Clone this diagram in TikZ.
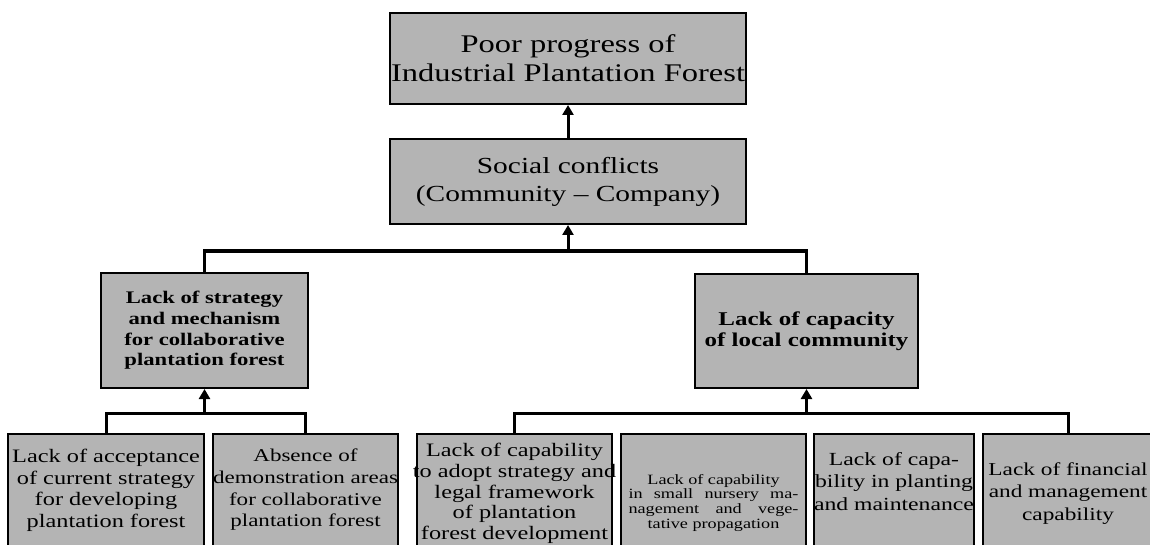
\documentclass[tikz,border=0pt]{standalone}
\usepackage{fontspec}
\setmainfont{Liberation Serif}[FakeStretch=1.28]
\usetikzlibrary{arrows.meta}
\definecolor{boxgray}{RGB}{180,180,180}
\begin{document}
\begin{tikzpicture}[x=1pt,y=-1pt,
  box/.style={draw=black, line width=2pt, fill=boxgray, inner sep=0pt, anchor=north west},
  conn/.style={line width=3pt, line join=miter},
  arr/.style={line width=3pt, -{Triangle[length=10pt,width=11pt]}},
  toptext/.style={font=\fontsize{25.4}{29}\selectfont, align=center},
  soctext/.style={font=\fontsize{23}{28}\selectfont, align=center},
  midtext/.style={font=\fontsize{17.7}{20.7}\selectfont\bfseries, align=center},
  bottext/.style={font=\fontsize{19}{21.7}\selectfont, align=center, inner sep=0pt, anchor=north},
  smalltext/.style={font=\fontsize{14.2}{14.7}\selectfont, align=center, inner sep=0pt, anchor=north}]
\useasboundingbox (0,0) rectangle (1150,545);
\clip (0,0) rectangle (1150,545);
\fill[white] (0,0) rectangle (1150,545);

% boxes
\node[box, minimum width=356pt, minimum height=91pt, toptext] (top) at (389,12)
  {Poor progress of\\Industrial Plantation Forest};
\node[box, minimum width=356pt, minimum height=85pt, soctext] (soc) at (389,138)
  {Social conflicts\\(Community -- Company)};
\node[box, minimum width=207pt, minimum height=115pt, midtext] (ml) at (100,272)
  {Lack of strategy\\and mechanism\\for collaborative\\plantation forest};
\node[box, minimum width=223pt, minimum height=114pt, midtext, font=\fontsize{19.5}{20.7}\selectfont\bfseries] (mr) at (694,273)
  {Lack of capacity\\of local community};

\node[box, minimum width=196pt, minimum height=140pt] (b1) at (7,433) {};
\node[box, minimum width=185pt, minimum height=140pt] (b2) at (212,433) {};
\node[box, minimum width=195pt, minimum height=140pt] (b3) at (416,433) {};
\node[box, minimum width=185pt, minimum height=140pt] (b4) at (620,433) {};
\node[box, minimum width=160pt, minimum height=140pt] (b5) at (813,433) {};
\node[box, minimum width=170pt, minimum height=140pt] (b6) at (982,433) {};

% texts of the lower boxes
\node[bottext] (t1) at (b1.north |- 0,449)
  {Lack of acceptance\\of current strategy\\for developing\\plantation forest};
\node[bottext, font=\fontsize{18}{21.7}\selectfont] (t2) at (b2.north |- 0,449)
  {Absence of\\demonstration areas\\for collaborative\\plantation forest};
\node[bottext, font=\fontsize{19}{20.8}\selectfont] (t3) at (b3.north |- 0,443)
  {Lack of capability\\to adopt strategy and\\legal framework\\of plantation\\forest development};
\node[smalltext] (t4) at (b4.north |- 0,474)
  {Lack of capability\\\makebox[170pt][s]{in small nursery ma-}\\\makebox[170pt][s]{nagement  and vege-}\\tative propagation};
\node[bottext, font=\fontsize{18.5}{22.5}\selectfont] (t5) at (b5.north |- 0,452)
  {Lack of capa-\\bility in planting\\and maintenance};
\node[bottext, font=\fontsize{18.2}{22.5}\selectfont] (t6) at (b6.north |- 0,462)
  {Lack of financial\\and management\\capability};

% junctions
\coordinate (j1) at (top.south |- 0,251);
\coordinate (j2) at (ml.south |- 0,413);
\coordinate (j3) at (mr.south |- 0,413);

% connectors
\draw[arr] (soc.north) -- (top.south);
\draw[arr] (j1) -- (soc.south);
\draw[conn] (ml.north) -- (ml.north |- j1) -- (mr.north |- j1) -- (mr.north);
\draw[arr] (j2) -- (ml.south);
\draw[conn] (b1.north) -- (b1.north |- j2) -- (b2.north |- j2) -- (b2.north);
\draw[arr] (j3) -- (mr.south);
\draw[conn] (b3.north) -- (b3.north |- j3) -- (b6.north |- j3) -- (b6.north);
\end{tikzpicture}
\end{document}
